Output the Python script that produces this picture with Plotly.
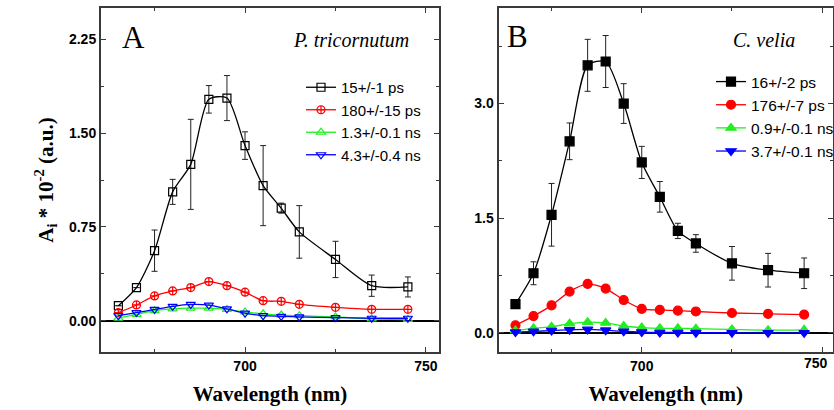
import plotly.graph_objects as go

# ---------------- data ----------------
wavelength = [665, 670, 675, 680, 685, 690, 695, 700, 705, 710, 715, 725, 735, 745]

# Panel A: P. tricornutum
a_names = ["15+/-1 ps", "180+/-15 ps", "1.3+/-0.1 ns", "4.3+/-0.4 ns"]
a_15ps = [0.12, 0.265, 0.56, 1.03, 1.25, 1.77, 1.78, 1.40, 1.08, 0.90, 0.71, 0.49, 0.28, 0.27]
a_15ps_err = [0.0, 0.0, 0.165, 0.10, 0.36, 0.11, 0.18, 0.11, 0.32, 0.04, 0.21, 0.145, 0.085, 0.08]
a_180ps = [0.064, 0.126, 0.198, 0.238, 0.265, 0.313, 0.28, 0.228, 0.16, 0.155, 0.131, 0.107, 0.091, 0.091]
a_1_3ns = [0.02, 0.05, 0.08, 0.095, 0.10, 0.10, 0.09, 0.07, 0.055, 0.045, 0.04, 0.03, 0.015, 0.01]
a_4_3ns = [0.04, 0.065, 0.09, 0.115, 0.13, 0.125, 0.095, 0.06, 0.04, 0.035, 0.03, 0.025, 0.02, 0.02]

# Panel B: C. velia
b_names = ["16+/-2 ps", "176+/-7 ps", "0.9+/-0.1 ns", "3.7+/-0.1 ns"]
b_16ps = [0.377, 0.78, 1.545, 2.506, 3.50, 3.55, 3.0, 2.23, 1.78, 1.334, 1.17, 0.91, 0.82, 0.78]
b_16ps_err = [0.0, 0.15, 0.41, 0.24, 0.34, 0.34, 0.26, 0.21, 0.20, 0.10, 0.115, 0.22, 0.22, 0.20]
b_176ps = [0.10, 0.22, 0.36, 0.54, 0.64, 0.58, 0.43, 0.315, 0.30, 0.29, 0.28, 0.26, 0.25, 0.24]
b_0_9ns = [0.03, 0.06, 0.08, 0.12, 0.14, 0.13, 0.09, 0.07, 0.06, 0.06, 0.055, 0.045, 0.035, 0.04]
b_3_7ns = [0.01, 0.02, 0.03, 0.04, 0.045, 0.035, 0.02, 0.01, 0.005, 0.005, 0.003, 0.002, 0.001, 0.0]

x_tickvals = [700, 750]
x_ticktext = ["700", "750"]
x_minor = [675, 725]
a_tickvals = [0.0, 0.75, 1.50, 2.25]
a_ticktext = ["0.00", "0.75", "1.50", "2.25"]
a_minor = [0.375, 1.125, 1.875]
b_tickvals = [0.0, 1.5, 3.0]
b_ticktext = ["0.0", "1.5", "3.0"]
b_minor = [0.75, 2.25, 3.75]

# ---------------- figure ----------------
SERIF = "Liberation Serif"
SANS = "Liberation Sans"
colors = ["#000000", "#ff0000", "#22ee22", "#0000ff"]
TICKFONT = dict(family=SANS, size=14, color="black", weight="bold")

B_X0, B_X1 = 660.3, 753.0          # x range of panel B
B_D0, B_D1 = 498.5 / 834, 833 / 834  # domain of panel B

fig = go.Figure()

def add(x, y, name, color, symbol, xa, ya, legend, err=None, size=8):
    tr = dict(
        x=x, y=y, name=name, mode="lines+markers",
        line=dict(color=color, width=1.3, shape="spline", smoothing=0.7),
        marker=dict(symbol=symbol, size=size, color=color,
                    line=dict(color=color, width=1.2)),
        xaxis=xa, yaxis=ya, legend=legend,
    )
    if err is not None:
        tr["error_y"] = dict(type="data", array=err, visible=True,
                             color="#222222", thickness=1, width=3)
    fig.add_trace(go.Scatter(**tr))

a_series = [a_15ps, a_180ps, a_1_3ns, a_4_3ns]
a_symbols = ["square-open", "circle-cross-open", "triangle-up-open", "triangle-down-open"]
for i, (ys, nm, sym) in enumerate(zip(a_series, a_names, a_symbols)):
    add(wavelength, ys, nm, colors[i], sym, "x", "y", "legend",
        err=a_15ps_err if i == 0 else None)

b_series = [b_16ps, b_176ps, b_0_9ns, b_3_7ns]
b_symbols = ["square", "circle", "triangle-up", "triangle-down"]
for i, (ys, nm, sym) in enumerate(zip(b_series, b_names, b_symbols)):
    add(wavelength, ys, nm, colors[i], sym, "x2", "y2", "legend2",
        err=b_16ps_err if i == 0 else None, size=9)

axis_common = dict(
    showline=True, linecolor="#3a3a3a", linewidth=2, mirror="allticks",
    ticks="inside", ticklen=5, tickwidth=1.2, tickcolor="#3a3a3a",
    showgrid=False, ticklabeloverflow="allow",
    tickfont=TICKFONT,
)
xtitle = dict(text="<b>Wavelength (nm)</b>", font=dict(family=SERIF, size=21, color="black"),
              standoff=14)

# Panel B's last x tick label sits on the page edge, where plotly hides it;
# it is written as an annotation at the position given by the x2 scale,
# nudged left a little so that it stays on the page.
b_x_ticktext = [t if v < 750 else "" for v, t in zip(x_tickvals, x_ticktext)]
b750_paper = B_D0 + (x_tickvals[-1] - B_X0) / (B_X1 - B_X0) * (B_D1 - B_D0)
b750_x = b750_paper - 6 / 834

fig.update_layout(
    width=834, height=410,
    margin=dict(l=0, r=0, t=0, b=0, autoexpand=False),
    paper_bgcolor="white", plot_bgcolor="white",
    showlegend=True,
    xaxis=dict(domain=[101 / 834, 439 / 834], range=[660.2, 753.6],
               tickvals=x_tickvals, ticktext=x_ticktext,
               minor=dict(tickvals=x_minor, ticks="inside", ticklen=3, tickcolor="#3a3a3a"),
               title=xtitle, anchor="y", **axis_common),
    yaxis=dict(domain=[1 - 352 / 410, 1 - 8 / 410], range=[-0.25, 2.5],
               tickvals=a_tickvals, ticktext=a_ticktext,
               minor=dict(tickvals=a_minor, ticks="inside", ticklen=3, tickcolor="#3a3a3a"),
               zeroline=True, zerolinecolor="black", zerolinewidth=2,
               title=dict(text="<b>A<sub>i</sub> * 10<sup>-2</sup> (a.u.)</b>",
                          font=dict(family=SERIF, size=21, color="black"), standoff=10),
               anchor="x", **axis_common),
    xaxis2=dict(domain=[B_D0, B_D1], range=[B_X0, B_X1],
                tickvals=x_tickvals, ticktext=b_x_ticktext,
                minor=dict(tickvals=x_minor, ticks="inside", ticklen=3, tickcolor="#3a3a3a"),
                title=xtitle, anchor="y2", **axis_common),
    yaxis2=dict(domain=[1 - 352 / 410, 1 - 8 / 410], range=[-0.25, 4.25],
                tickvals=b_tickvals, ticktext=b_ticktext,
                minor=dict(tickvals=b_minor, ticks="inside", ticklen=3, tickcolor="#3a3a3a"),
                zeroline=True, zerolinecolor="black", zerolinewidth=2,
                anchor="x2", **axis_common),
    legend=dict(x=301 / 834, y=1 - 71 / 410, xanchor="left", yanchor="top",
                bgcolor="rgba(0,0,0,0)", font=dict(family=SANS, size=15, color="black"),
                tracegroupgap=0, itemwidth=30),
    legend2=dict(x=711 / 834, y=1 - 65 / 410, xanchor="left", yanchor="top",
                 bgcolor="rgba(0,0,0,0)", font=dict(family=SANS, size=15.5, color="black"),
                 tracegroupgap=0, itemwidth=30),
    annotations=[
        dict(text="A", x=133 / 834, y=1 - 38 / 410, xref="paper", yref="paper",
             xanchor="center", yanchor="middle",
             showarrow=False, font=dict(family=SERIF, size=31, color="black")),
        dict(text="<i>P. tricornutum</i>", x=351 / 834, y=1 - 40 / 410, xref="paper", yref="paper",
             xanchor="center", yanchor="middle",
             showarrow=False, font=dict(family=SERIF, size=20, color="black")),
        dict(text="B", x=517 / 834, y=1 - 37 / 410, xref="paper", yref="paper",
             xanchor="center", yanchor="middle",
             showarrow=False, font=dict(family=SERIF, size=31, color="black")),
        dict(text="<i>C. velia</i>", x=764 / 834, y=1 - 40 / 410, xref="paper", yref="paper",
             xanchor="center", yanchor="middle",
             showarrow=False, font=dict(family=SERIF, size=20, color="black")),
        dict(text="<b>" + x_ticktext[-1] + "</b>", x=b750_x, xref="paper",
             y=1 - 363 / 410, yref="paper",
             xanchor="center", yanchor="middle", showarrow=False,
             font=dict(family=SANS, size=14, color="black")),
    ],
)

fig.write_html("out.html")
